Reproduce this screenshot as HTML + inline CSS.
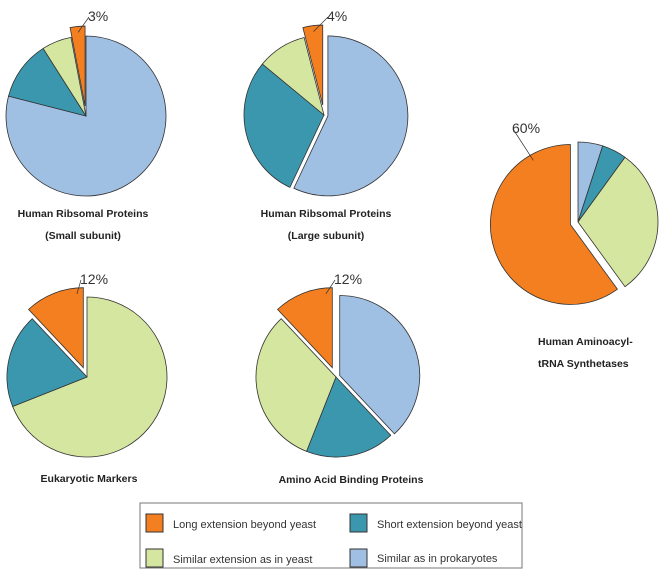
<!DOCTYPE html>
<html><head><meta charset="utf-8"><style>
body{margin:0;background:#fff;width:672px;height:580px;overflow:hidden}
svg{display:block}
.t{font-family:"Liberation Sans",sans-serif;font-weight:bold;font-size:10.5px;fill:#222}
.p{font-family:"Liberation Sans",sans-serif;font-size:14px;fill:#333}
.l{font-family:"Liberation Sans",sans-serif;font-size:11px;fill:#333}
</style></head><body>
<svg id="c" width="672" height="580">
<g>
<rect x="140" y="503" width="382" height="65" fill="#fff" stroke="#777" stroke-width="1"/>
<rect x="146" y="514" width="17" height="18" fill="#f47f20" stroke="#333"/>
<text class="l" x="173" y="528">Long extension beyond yeast</text>
<rect x="350" y="514" width="17" height="18" fill="#3a97ad" stroke="#333"/>
<text class="l" x="377" y="528">Short extension beyond yeast</text>
<rect x="146" y="549" width="17" height="18" fill="#d5e6a0" stroke="#333"/>
<text class="l" x="173" y="563">Similar extension as in yeast</text>
<rect x="350" y="549" width="17" height="18" fill="#9fbfe3" stroke="#333"/>
<text class="l" x="377" y="562">Similar as in prokaryotes</text>
</g>
</svg>
<script>
const categories=["Similar as in prokaryotes","Short extension beyond yeast","Similar extension as in yeast","Long extension beyond yeast"];
const colors=["#9fbfe3","#3a97ad","#d5e6a0","#f47f20"];
const smallSubunit=[79,12,6,3];
const largeSubunit=[57,29,10,4];
const eukaryoticMarkers=[0,19,69,12];
const aminoAcidBinding=[38,18,32,12];
const aminoacylTRNA=[5,5,30,60];
const pctLabels=["3%","4%","12%","12%","60%"];
const svg=document.getElementById('c');
const NS="http://www.w3.org/2000/svg";
function pie(name,vals,order,cx,cy,r,explode,lbl,lx,ly,lineAng,titles,tx,ty,anchor){
  const g=document.createElementNS(NS,'g');
  
  
  svg.appendChild(g);
  const tot=vals.reduce((a,b)=>a+b,0);
  let a=0;let orangeMid=null,orangeOff=null;
  order.forEach(i=>{
    const v=vals[i];
    if(v<=0)return;
    const a0=a,a1=a+v/tot*2*Math.PI;a=a1;
    const m=(a0+a1)/2,e=explode[i]||0;
    const ox=cx+e*Math.sin(m),oy=cy-e*Math.cos(m);
    const x0=ox+r*Math.sin(a0),y0=oy-r*Math.cos(a0),x1=ox+r*Math.sin(a1),y1=oy-r*Math.cos(a1);
    const p=document.createElementNS(NS,'path');
    p.setAttribute('d',`M${ox},${oy}L${x0},${y0}A${r},${r} 0 ${a1-a0>Math.PI?1:0} 1 ${x1},${y1}Z`);
    p.setAttribute('fill',colors[i]);p.setAttribute('stroke','#333');p.setAttribute('stroke-width','0.8');
    
    
    g.appendChild(p);
    if(i===3){orangeMid=m;orangeOff=[ox,oy];}
  });
  if(lbl){
    const t=document.createElementNS(NS,'text');
    t.setAttribute('class','p');t.setAttribute('x',lx);t.setAttribute('y',ly);t.textContent=lbl;
    
    
    g.appendChild(t);
    const ang=lineAng!==null?lineAng*Math.PI/180:orangeMid;
    const ln=document.createElementNS(NS,'line');
    const px=orangeOff[0]+(r-6)*Math.sin(ang),py=orangeOff[1]-(r-6)*Math.cos(ang);
    ln.setAttribute('x1',lx+1);ln.setAttribute('y1',ly-4);ln.setAttribute('x2',px);ln.setAttribute('y2',py);
    ln.setAttribute('stroke','#333');ln.setAttribute('stroke-width','0.7');
    g.appendChild(ln);
  }
  titles.forEach((s,k)=>{
    const t=document.createElementNS(NS,'text');
    t.setAttribute('class','t');t.setAttribute('x',tx);t.setAttribute('y',ty+k*22);
    t.setAttribute('text-anchor',anchor);
    t.textContent=s;
    
    
    g.appendChild(t);
  });
}
pie('pie-small-subunit',smallSubunit,[0,1,2,3],86,116,80,[0,0,0,10],pctLabels[0],88,21,null,["Human Ribsomal Proteins","(Small subunit)"],83,217,'middle');
pie('pie-large-subunit',largeSubunit,[0,1,2,3],324,115,80,[4,0,0,10],pctLabels[1],327,21,null,["Human Ribsomal Proteins","(Large subunit)"],326,217,'middle');
pie('pie-eukaryotic-markers',eukaryoticMarkers,[0,2,1,3],87,377,80,[0,0,0,10],pctLabels[2],80,284,-5,["Eukaryotic Markers"],89,482,'middle');
pie('pie-amino-acid-binding',aminoAcidBinding,[0,1,2,3],336,377,80,[4,0,0,10],pctLabels[3],334,284,-5,["Amino Acid Binding Proteins"],351,483,'middle');
pie('pie-aminoacyl-trna',aminoacylTRNA,[0,1,2,3],578,222,80,[0,0,0,8],pctLabels[4],512,133,-30,["Human Aminoacyl-","tRNA Synthetases"],538,345,'start');
</script>
</body></html>
